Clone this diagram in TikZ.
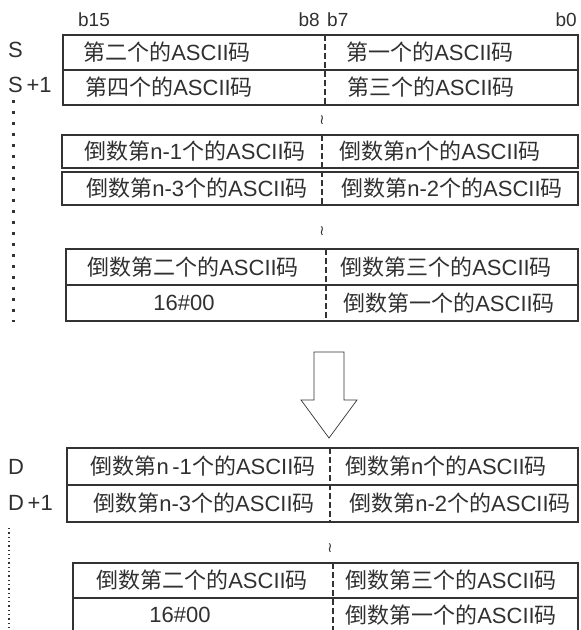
\documentclass[tikz,border=0pt]{standalone}
\usepackage{fontspec}
\setmainfont{Liberation Sans}
\newfontfamily\cjk{Noto Sans CJK SC}
\newfontfamily\dejavu{DejaVu Sans}
\newcommand{\cj}[1]{{\cjk #1}}
\newcommand{\ac}{ASCII\cj{码}}
\definecolor{linegray}{HTML}{333333}
\definecolor{textgray}{HTML}{303030}
\begin{document}
\begin{tikzpicture}[x=1pt,y=-1pt,
  thinbox/.style={draw=linegray, line width=1.4pt},
  thickbox/.style={draw=linegray, line width=2.2pt},
  divline/.style={draw=linegray, line width=1.8pt, dash pattern=on 6pt off 3pt},
  txt/.style={text=textgray, font=\fontsize{22}{25}\selectfont, inner sep=0pt},
  lbl/.style={text=textgray, font=\fontsize{22}{25}\selectfont, inner sep=0pt, anchor=west},
  bit/.style={text=textgray, font=\fontsize{19}{22}\selectfont, inner sep=0pt},
  tld/.style={text=textgray, font=\dejavu\fontsize{14}{16}\selectfont, inner sep=0pt},
  dotbig/.style={draw=linegray, line width=3pt, dash pattern=on 3pt off 8pt},
  dotsmall/.style={draw=linegray, line width=1.3pt, dash pattern=on 1.3pt off 3pt},
  arrowshape/.style={draw=linegray, fill=white, line width=0.7pt, line join=miter}]
\useasboundingbox (0,0) rectangle (581,630);
\clip (0,0) rectangle (581,630);
% bit labels
\node[bit] (b15) at (94,20) {b15};
\node[bit, anchor=east] (b8) at (320,20) {b8};
\node[bit, anchor=west] (b7) at (327,20) {b7};
\node[bit, anchor=east] (b0) at (577,20) {b0};
% register labels
\node[lbl] (S) at (8,50) {S};
\node[lbl] (S1) at (8,85) {S\,+1};
\node[lbl] (D) at (8,467) {D};
\node[lbl] (D1) at (8,503) {D\,+1};
% box 1
\draw[thinbox] (63,35) rectangle (578,105);
\draw[thinbox] (63,70) -- (578,70);
\coordinate (v1a) at (325,35); \coordinate (v1b) at (325,105);
\draw[divline] (v1a) -- (v1b);
\node[txt] (a1) at (167,52.5) {\cj{第二个的}\ac};
\node[txt] (a2) at (430,52.5) {\cj{第一个的}\ac};
\node[txt] (a3) at (169,87.5) {\cj{第四个的}\ac};
\node[txt] (a4) at (431,87.5) {\cj{第三个的}\ac};
% box 2
\draw[thickbox] (62,135) rectangle (578,168);
\draw[thickbox] (62,172) rectangle (578,205);
\coordinate (v2a) at (322,135); \coordinate (v2b) at (322,205);
\draw[divline] (v2a) -- (v2b);
\node[txt] (c1) at (195,151.5) {\cj{倒数第}n-1\cj{个的}\ac};
\node[txt] (c2) at (440,151.5) {\cj{倒数第}n\cj{个的}\ac};
\node[txt] (c3) at (197,188.5) {\cj{倒数第}n-3\cj{个的}\ac};
\node[txt] (c4) at (452,188.5) {\cj{倒数第}n-2\cj{个的}\ac};
% box 3
\draw[thickbox] (66,249) rectangle (578,321);
\draw[thickbox] (66,285) -- (578,285);
\coordinate (v3a) at (326,249); \coordinate (v3b) at (326,321);
\draw[divline] (v3a) -- (v3b);
\node[txt] (e1) at (193,267) {\cj{倒数第二个的}\ac};
\node[txt] (e2) at (446,267) {\cj{倒数第三个的}\ac};
\node[txt] (e3) at (184,303) {16\#00};
\node[txt] (e4) at (449,303) {\cj{倒数第一个的}\ac};
% tildes
\node[tld] (t1) at (322,120) {≀};
\node[tld] (t2) at (322,231) {≀};
\node[tld] (t3) at (330,548) {≀};
% dotted lines
\coordinate (d1a) at (13,100); \coordinate (d1b) at (13,322);
\draw[dotbig] (d1a) -- (d1b);
\coordinate (d2a) at (9,528); \coordinate (d2b) at (9,632);
\draw[dotsmall] (d2a) -- (d2b);
% arrow
\draw[arrowshape] (314,352) -- (344,352) -- (344,400) -- (357,400) -- (329,438)
  -- (301,400) -- (314,400) -- cycle;
% box 4
\draw[thinbox, line width=1.7pt] (67,448) rectangle (578,522);
\draw[thinbox, line width=1.7pt] (67,485) -- (578,485);
\coordinate (v4a) at (330,448); \coordinate (v4b) at (330,522);
\draw[divline] (v4a) -- (v4b);
\node[txt] (g1) at (203,466.5) {\cj{倒数第}n\,-1\cj{个的}\ac};
\node[txt] (g2) at (446,466.5) {\cj{倒数第}n\cj{个的}\ac};
\node[txt] (g3) at (204,503.5) {\cj{倒数第}n-3\cj{个的}\ac};
\node[txt] (g4) at (460,503.5) {\cj{倒数第}n-2\cj{个的}\ac};
% box 5
\draw[thickbox] (73,563) rectangle (578,645);
\draw[thickbox] (73,598) -- (578,598);
\coordinate (v5a) at (333,563); \coordinate (v5b) at (333,640);
\draw[divline] (v5a) -- (v5b);
\node[txt] (h1) at (202,580.5) {\cj{倒数第二个的}\ac};
\node[txt] (h2) at (451,580.5) {\cj{倒数第三个的}\ac};
\node[txt] (h3) at (180,615) {16\#00};
\node[txt] (h4) at (451,615) {\cj{倒数第一个的}\ac};
\end{tikzpicture}
\end{document}
